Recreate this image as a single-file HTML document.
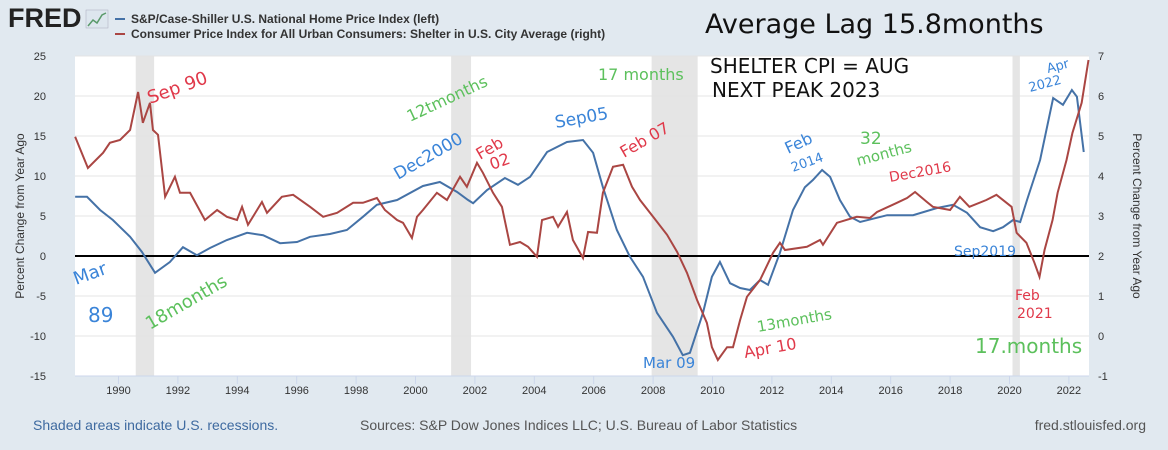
<!DOCTYPE html>
<html><head><meta charset="utf-8"><style>
body{margin:0;width:1168px;height:450px;background:#e1e9f0;font-family:"Liberation Sans",sans-serif;overflow:hidden}
svg{display:block}
</style></head><body>
<svg id="c" width="1168" height="450">
<g>
<text x="8" y="27" font-size="27" font-weight="bold" fill="#222">FRED</text>
<g><rect x="86" y="10" width="22" height="18" fill="#dde6ee" stroke="#aab" stroke-width="0.5"/><polyline points="88,26 93,20 97,23 102,15 106,13" fill="none" stroke="#5a9a6a" stroke-width="1.5"/></g>
<line x1="115" y1="19" x2="125" y2="19" stroke="#4572a7" stroke-width="2"/>
<text x="131" y="23" font-size="12" font-weight="bold" fill="#333">S&amp;P/Case-Shiller U.S. National Home Price Index (left)</text>
<line x1="115" y1="34" x2="125" y2="34" stroke="#aa4643" stroke-width="2"/>
<text x="131" y="38" font-size="12" font-weight="bold" fill="#333">Consumer Price Index for All Urban Consumers: Shelter in U.S. City Average (right)</text>
</g>
<rect x="75" y="56" width="1014" height="320" fill="#fff"/>
<g id="rec"></g><g id="grid"></g><g id="axes"></g><g id="series"></g>
<g font-family="'DejaVu Sans',sans-serif">
<text x="705" y="33" font-size="27" fill="#111">Average Lag 15.8months</text>
<text x="710" y="73" font-size="20" fill="#111">SHELTER CPI = AUG</text>
<text x="712" y="97" font-size="20" fill="#111">NEXT PEAK    2023</text>
<text x="150" y="104" font-size="18" fill="#e0394a" transform="rotate(-20 150 104)">Sep 90</text>
<text x="410" y="122" font-size="16" fill="#5cc05c" transform="rotate(-25 410 122)">12tmonths</text>
<text x="398" y="180" font-size="17" fill="#3a84d8" transform="rotate(-30 398 180)">Dec2000</text>
<text x="480" y="160" font-size="16" fill="#e0394a" transform="rotate(-30 480 160)">Feb</text>
<text x="492" y="170" font-size="16" fill="#e0394a" transform="rotate(-20 492 170)">02</text>
<text x="556" y="128" font-size="17" fill="#3a84d8" transform="rotate(-10 556 128)">Sep05</text>
<text x="624" y="158" font-size="16" fill="#e0394a" transform="rotate(-30 624 158)">Feb 07</text>
<text x="598" y="80" font-size="16" fill="#5cc05c">17 months</text>
<text x="76" y="285" font-size="18" fill="#3a84d8" transform="rotate(-20 76 285)">Mar</text>
<text x="88" y="322" font-size="20" fill="#3a84d8">89</text>
<text x="150" y="330" font-size="18" fill="#5cc05c" transform="rotate(-30 150 330)">18months</text>
<text x="643" y="368" font-size="15" fill="#3a84d8">Mar 09</text>
<text x="745" y="358" font-size="16" fill="#e0394a" transform="rotate(-10 745 358)">Apr 10</text>
<text x="758" y="332" font-size="15" fill="#5cc05c" transform="rotate(-10 758 332)">13months</text>
<text x="788" y="154" font-size="16" fill="#3a84d8" transform="rotate(-25 788 154)">Feb</text>
<text x="793" y="172" font-size="13" fill="#3a84d8" transform="rotate(-20 793 172)">2014</text>
<text x="860" y="144" font-size="17" fill="#5cc05c">32</text>
<text x="858" y="166" font-size="15" fill="#5cc05c" transform="rotate(-15 858 166)">months</text>
<text x="890" y="182" font-size="14" fill="#e0394a" transform="rotate(-10 890 182)">Dec2016</text>
<text x="954" y="256" font-size="14" fill="#3a84d8">Sep2019</text>
<text x="1015" y="300" font-size="14" fill="#e0394a">Feb</text>
<text x="1017" y="318" font-size="14" fill="#e0394a">2021</text>
<text x="975" y="353" font-size="20" fill="#5cc05c">17.months</text>
<text x="1048" y="73" font-size="13" fill="#3a84d8" transform="rotate(-15 1048 73)">Apr</text>
<text x="1030" y="92" font-size="13" fill="#3a84d8" transform="rotate(-15 1030 92)">2022</text>
</g>
<text x="33" y="430" font-size="14" fill="#3e6aa0">Shaded areas indicate U.S. recessions.</text>
<text x="360" y="430" font-size="14" fill="#555">Sources: S&amp;P Dow Jones Indices LLC; U.S. Bureau of Labor Statistics</text>
<text x="1146" y="430" font-size="14" fill="#555" text-anchor="end">fred.stlouisfed.org</text>
</svg>
<script>
const recStart=[1990.58,2001.2,2007.95,2020.1];
const recEnd=[1991.2,2001.87,2009.5,2020.35];
const leftTicks=[-15,-10,-5,0,5,10,15,20,25];
const rightTicks=[-1,0,1,2,3,4,5,6,7];
const xTicks=[1990,1992,1994,1996,1998,2000,2002,2004,2006,2008,2010,2012,2014,2016,2018,2020,2022];
const hpiYears=[1988.54,1988.94,1989.38,1989.81,1990.39,1990.79,1991.23,1991.73,1992.17,1992.64,1993.08,1993.65,1994.33,1994.87,1995.44,1996.01,1996.45,1997.12,1997.69,1998.23,1998.7,1999.38,2000.25,2000.82,2001.4,2001.77,2001.94,2002.41,2003.01,2003.45,2003.86,2004.43,2005.1,2005.64,2005.98,2006.31,2006.78,2007.22,2007.66,2008.13,2008.67,2009.0,2009.24,2009.68,2009.98,2010.25,2010.59,2010.93,2011.26,2011.6,2011.87,2012.27,2012.71,2013.11,2013.38,2013.69,2013.96,2014.29,2014.63,2014.97,2015.88,2016.75,2017.56,2018.1,2018.57,2019.01,2019.45,2019.78,2020.12,2020.36,2020.59,2021.03,2021.47,2021.8,2022.1,2022.27,2022.5];
const hpiValues=[7.4,7.4,5.75,4.5,2.4,0.5,-2.1,-0.75,1.1,0.1,1.0,2.0,2.9,2.6,1.6,1.75,2.4,2.75,3.25,4.9,6.4,7.0,8.75,9.25,8.0,7.0,6.6,8.25,9.75,8.9,9.9,13,14.25,14.5,12.9,8.6,3.25,-0.1,-2.6,-7.1,-10.1,-12.4,-12.1,-7.1,-2.6,-0.75,-3.4,-4,-4.25,-3,-3.6,0.4,5.75,8.6,9.5,10.75,9.9,7,4.9,4.25,5.1,5.1,6.0,6.4,5.4,3.6,3.1,3.6,4.5,4.25,7,12,19.75,18.9,20.75,19.9,13];
const cpiYears=[1988.54,1988.97,1989.48,1989.71,1990.05,1990.39,1990.66,1990.82,1991.06,1991.16,1991.33,1991.57,1991.9,1992.07,1992.41,1992.91,1993.32,1993.65,1993.99,1994.16,1994.36,1994.83,1995.0,1995.5,1995.88,1996.45,1996.89,1997.36,1997.9,1998.23,1998.7,1998.97,1999.38,1999.58,1999.88,2000.05,2000.25,2000.72,2001.06,2001.5,2001.73,2002.07,2002.27,2002.61,2002.91,2003.18,2003.52,2003.79,2004.09,2004.26,2004.63,2004.8,2005.1,2005.3,2005.64,2005.81,2006.11,2006.31,2006.65,2006.99,2007.29,2007.56,2008.0,2008.47,2008.81,2009.14,2009.48,2009.81,2009.98,2010.18,2010.49,2010.69,2010.93,2011.16,2011.6,2012.04,2012.27,2012.44,2013.18,2013.62,2013.72,2014.19,2014.86,2015.3,2015.54,2016.21,2016.55,2016.82,2017.22,2017.42,2018.0,2018.33,2018.65,2019.22,2019.56,2019.9,2020.07,2020.24,2020.57,2020.84,2021.01,2021.18,2021.45,2021.62,2021.92,2022.12,2022.43,2022.66];
const cpiValues=[4.98,4.2,4.58,4.83,4.9,5.15,6.1,5.33,5.83,5.15,5.03,3.48,3.98,3.58,3.58,2.9,3.15,2.98,2.9,3.23,2.78,3.35,3.08,3.48,3.53,3.23,2.98,3.08,3.33,3.33,3.45,3.15,2.9,2.83,2.45,2.98,3.15,3.58,3.4,3.98,3.73,4.33,4.08,3.58,3.23,2.28,2.35,2.23,1.98,2.9,2.98,2.73,3.1,2.4,1.95,2.6,2.58,3.58,4.23,4.28,3.73,3.4,2.98,2.53,2.1,1.58,0.9,0.33,-0.28,-0.6,-0.28,-0.28,0.4,0.98,1.4,2.08,2.33,2.15,2.23,2.4,2.28,2.83,2.98,2.95,3.1,3.33,3.45,3.6,3.35,3.23,3.15,3.48,3.23,3.4,3.53,3.33,3.23,2.58,2.33,1.83,1.48,2.15,2.9,3.58,4.4,5.08,5.83,6.9];
const NS='http://www.w3.org/2000/svg';
const X0=75,X1=1089,T=56,B=376;
const xs=y=>118.5+(y-1990)*29.7;
const yl=v=>256-v*8;
const yr=v=>256-(v-2)*40;
function mk(tag,at,parent){const e=document.createElementNS(NS,tag);for(const k in at)e.setAttribute(k,at[k]);document.getElementById(parent).appendChild(e);return e;}
recStart.forEach((s,i)=>{const r=mk('rect',{x:xs(s),y:T,width:xs(recEnd[i])-xs(s),height:B-T,fill:'#e5e5e5'},'rec');

});
leftTicks.forEach((v,i)=>{const y=yl(v);
if(v!==0&&v!==-15){const g=mk('line',{x1:X0,x2:X1,y1:y,y2:y,stroke:'#e4e4e4','stroke-width':1},'grid');

}
const t=mk('text',{x:46,y:y+4,'font-size':11,fill:'#333','text-anchor':'end'},'axes');t.textContent=v;


const r=mk('text',{x:1098,y:yr(rightTicks[i])+4,'font-size':11,fill:'#333'},'axes');r.textContent=rightTicks[i];

});
const bl=mk('line',{x1:X0,x2:X1,y1:B,y2:B,stroke:'#ccd6eb','stroke-width':1},'axes');


xTicks.forEach(v=>{const x=xs(v);const l=mk('line',{x1:x,x2:x,y1:B,y2:B+8,stroke:'#ccd6eb'},'axes');


const t=mk('text',{x:x,y:394,'font-size':11,fill:'#333','text-anchor':'middle'},'axes');t.textContent=v;

});
const lt=mk('text',{x:24,y:216,'font-size':12,fill:'#333','text-anchor':'middle',transform:'rotate(-90 24 216)'},'axes');lt.textContent='Percent Change from Year Ago';


const rt=mk('text',{x:1133,y:216,'font-size':12,fill:'#333','text-anchor':'middle',transform:'rotate(90 1133 216)'},'axes');rt.textContent='Percent Change from Year Ago';


const z=mk('line',{x1:X0,x2:X1,y1:yl(0),y2:yl(0),stroke:'#000','stroke-width':2},'series');


const hp=mk('polyline',{points:hpiYears.map((y,i)=>xs(y)+','+yl(hpiValues[i])).join(' '),fill:'none',stroke:'#4572a7','stroke-width':2},'series');


const cp=mk('polyline',{points:cpiYears.map((y,i)=>xs(y)+','+yr(cpiValues[i])).join(' '),fill:'none',stroke:'#aa4643','stroke-width':2},'series');


</script>
</body></html>
